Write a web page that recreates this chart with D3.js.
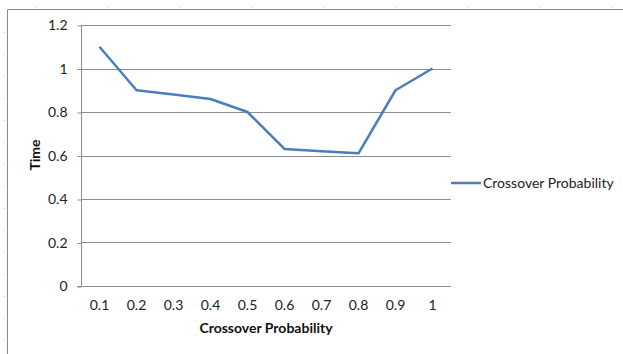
<!DOCTYPE html>
<html><head><meta charset="utf-8">
<script src="https://d3js.org/d3.v7.min.js"></script>
<style>body{margin:0;background:#fff}svg{display:block}</style>
</head><body>
<script>
const categories = ["0.1","0.2","0.3","0.4","0.5","0.6","0.7","0.8","0.9","1"];
const timeValues = [1.1, 0.9, 0.88, 0.86, 0.8, 0.63, 0.62, 0.61, 0.9, 1.0];
const yTicks = [0, 0.2, 0.4, 0.6, 0.8, 1, 1.2];
const seriesName = "Crossover Probability";
const xTitle = "Crossover Probability";
const yTitle = "Time";

(function(){
const W = 623, H = 354;
const FONT = "Lato, 'Open Sans', sans-serif";
const svg = d3.select("body").append("svg").attr("width", W).attr("height", H);

// outer frame edges
svg.append("line").attr("x1",7.5).attr("x2",623).attr("y1",9.5).attr("y2",9.5).attr("stroke","#8a8a8a");
svg.append("line").attr("x1",7.5).attr("x2",7.5).attr("y1",9.5).attr("y2",354).attr("stroke","#8a8a8a");
for (let yy = 32; yy < H; yy += 22) svg.append("line").attr("x1",4).attr("x2",6).attr("y1",yy+0.5).attr("y2",yy+0.5).attr("stroke","#e0e0e0");
for (let xx = 36; xx < W; xx += 72) svg.append("line").attr("x1",xx+0.5).attr("x2",xx+0.5).attr("y1",6).attr("y2",8).attr("stroke","#e0e0e0");

const pl = 81, pr = 451, pt = 25, pb = 286;
const x = d3.scaleBand().domain(categories).range([pl, pr]);
const y = d3.scaleLinear().domain([0, 1.2]).range([pb, pt]);

// gridlines
svg.append("g").selectAll("line").data(yTicks.filter(d=>d>0)).join("line")
  .attr("x1", pl).attr("x2", pr)
  .attr("y1", d => Math.round(y(d))+0.5).attr("y2", d => Math.round(y(d))+0.5)
  .attr("stroke", "#8c8c8c").attr("stroke-width", 1);

// y axis
const yAxis = d3.axisLeft(y).tickValues(yTicks).tickSize(4).tickPadding(10).tickFormat(d => String(d));
const gy = svg.append("g").attr("transform", `translate(${pl+0.5},0.5)`).call(yAxis);
gy.select(".domain").attr("stroke", "#8c8c8c").attr("d", `M0,${pt}V${pb}`);
gy.selectAll(".tick line").attr("stroke", "#8c8c8c");
gy.selectAll(".tick text").attr("font-family", FONT).attr("font-size", 14).attr("fill", "#222");

// x axis
const xAxis = d3.axisBottom(x).tickSize(0).tickPadding(14);
const gx = svg.append("g").attr("transform", `translate(0,${pb+0.5})`).call(xAxis);
gx.select(".domain").attr("stroke", "#8c8c8c").attr("d", `M${pl-4},0H${pr}`);
gx.selectAll(".tick text").attr("font-family", FONT).attr("font-size", 14).attr("fill", "#222");

// line
const line = d3.line().x((d,i) => x(categories[i]) + x.bandwidth()/2).y(d => y(d));
svg.append("path").datum(timeValues).attr("d", line)
  .attr("fill", "none").attr("stroke", "#4a7ebb").attr("stroke-width", 2.5).attr("stroke-linejoin","round");

// titles
svg.append("text").attr("x", 266).attr("y", 333).attr("text-anchor","middle")
  .attr("font-family", FONT).attr("font-size", 14).attr("font-weight","bold").attr("fill","#111").text(xTitle);
svg.append("text").attr("transform","translate(40,155) rotate(-90)").attr("text-anchor","middle")
  .attr("font-family", FONT).attr("font-size", 14).attr("font-weight","bold").attr("fill","#111").text(yTitle);

// legend
svg.append("line").attr("x1",451).attr("x2",481).attr("y1",183).attr("y2",183).attr("stroke","#4a7ebb").attr("stroke-width",2.5);
svg.append("text").attr("x",483).attr("y",188).attr("font-family",FONT).attr("font-size",14).attr("fill","#222").text(seriesName);
})();
</script>
</body></html>
